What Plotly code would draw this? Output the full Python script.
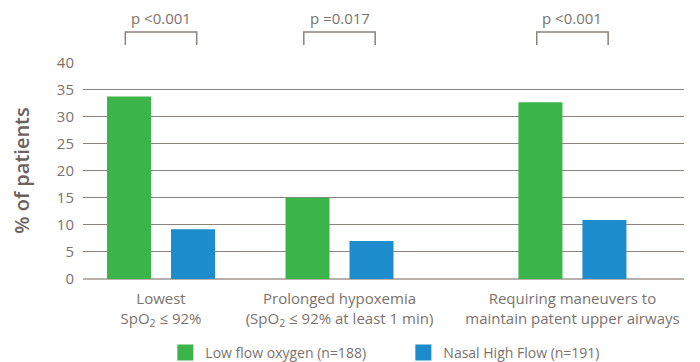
import plotly.graph_objects as go

# ---- data ----
categories = [
    "Lowest<br>SpO<sub>2</sub> ≤ 92%",
    "Prolonged hypoxemia<br>(SpO<sub>2</sub> ≤ 92% at least 1 min)",
    "Requiring maneuvers to<br>maintain patent upper airways",
]
low_flow = [33.7, 15.0, 32.6]
nasal_high_flow = [9.2, 7.0, 10.9]
series_names = ["Low flow oxygen (n=188)", "Nasal High Flow (n=191)"]
p_values = ["p <0.001", "p =0.017", "p <0.001"]
y_ticks = [0, 5, 10, 15, 20, 25, 30, 35, 40]

# ---- layout helpers (category positions on axis) ----
cat_pos = [0, 1, 2.305]

GREEN = "#3bb54a"
BLUE = "#1c8ccd"
TXT = "#7b726d"
GRID = "#8a837e"
FONT = "Open Sans"

fig = go.Figure()
fig.add_trace(go.Bar(x=cat_pos, y=low_flow, name=series_names[0], showlegend=False,
                     legendgroup="lf", marker=dict(color=GREEN, line=dict(width=0))))
fig.add_trace(go.Bar(x=cat_pos, y=nasal_high_flow, name=series_names[1], showlegend=False,
                     legendgroup="nhf", marker=dict(color=BLUE, line=dict(width=0))))
# legend entries with larger square swatches
fig.add_trace(go.Scatter(x=[None], y=[None], mode="markers", name=series_names[0],
                         legendgroup="lf",
                         marker=dict(symbol="square", size=17, color=GREEN, line=dict(width=0))))
fig.add_trace(go.Scatter(x=[None], y=[None], mode="markers", name=series_names[1],
                         legendgroup="nhf",
                         marker=dict(symbol="square", size=17, color=BLUE, line=dict(width=0))))

# p-value brackets and labels
half = 0.2
for xc, p in zip(cat_pos, p_values):
    fig.add_shape(type="path", xref="x", yref="paper",
                  path=f"M {xc-half},1.078 L {xc-half},1.138 L {xc+half},1.138 L {xc+half},1.078",
                  line=dict(color=GRID, width=1.5))
    fig.add_annotation(x=xc, y=1.203, xref="x", yref="paper", text=p,
                       showarrow=False, font=dict(family=FONT, size=15, color=TXT),
                       yanchor="middle", xanchor="center")

fig.update_layout(
    width=692, height=354,
    margin=dict(l=75, r=16, t=54, b=83, autoexpand=False),
    paper_bgcolor="white", plot_bgcolor="white",
    barmode="group", bargap=0.283, bargroupgap=0.3125,
    font=dict(family=FONT, color=TXT, size=14),
    showlegend=True,
    legend=dict(orientation="h", x=0.137, xanchor="left", y=-0.341, yanchor="middle",
                font=dict(family=FONT, size=14, color=TXT),
                entrywidth=193, entrywidthmode="pixels",
                bgcolor="rgba(0,0,0,0)"),
    xaxis=dict(range=[-0.437, 2.930], tickvals=cat_pos, ticktext=categories,
               showgrid=False, zeroline=False, showline=False, ticks="",
               automargin=False, ticklabelstandoff=9,
               tickfont=dict(family=FONT, size=15, color=TXT), fixedrange=True),
    yaxis=dict(range=[0, 40.05], tickvals=y_ticks, showgrid=True, gridcolor=GRID,
               gridwidth=1, zeroline=True, zerolinecolor="#b8b0aa", zerolinewidth=2,
               showline=False, ticks="", ticklabelstandoff=8, automargin=False,
               tickfont=dict(family=FONT, size=15, color=TXT),
               title=dict(text="% of patients", standoff=21,
                          font=dict(family=FONT, size=20, color="#6b625d", weight=600))),
)

fig.write_html("out.html")
